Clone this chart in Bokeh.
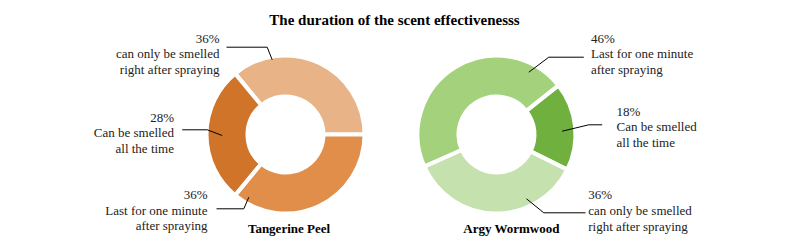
import math
from bokeh.plotting import figure
from bokeh.models import Range1d, ColumnDataSource
from bokeh.core.properties import value
from bokeh.embed import file_html
from bokeh.resources import INLINE

title = "The duration of the scent effectivenesss"
# Tangerine Peel (counter-clockwise from east)
tp_name = "Tangerine Peel"
tp_labels = ["can only be smelled\nright after spraying", "Can be smelled\nall the time", "Last for one minute\nafter spraying"]
tp_values = [36, 28, 36]
tp_colors = ["#E8B387", "#D0742A", "#E08E4A"]
# Argy Wormwood
aw_name = "Argy Wormwood"
aw_labels = ["Can be smelled\nall the time", "Last for one minute\nafter spraying", "can only be smelled\nright after spraying"]
aw_values = [18, 46, 36]
aw_colors = ["#70B03E", "#A4D27C", "#C4E1AE"]

W, H = 773, 236
FONT = value("Liberation Serif")

p = figure(width=W, height=H, output_backend="svg", toolbar_location=None,
           x_range=Range1d(0, W), y_range=Range1d(252 - H, 252),
           min_border=0)
p.axis.visible = False
p.grid.visible = False
p.outline_line_color = None
p.background_fill_color = "white"

def Y(ys):
    return 252 - ys

def donut(cx, cy, vals, colors, start_deg):
    total = sum(vals)
    starts, ends = [], []
    a = math.radians(start_deg)
    for v in vals:
        starts.append(a)
        a += 2 * math.pi * v / total
        ends.append(a)
    src = ColumnDataSource(dict(s=starts, e=ends, c=colors))
    p.annular_wedge(x=cx, y=Y(cy), inner_radius=38, outer_radius=79,
                    start_angle="s", end_angle="e", fill_color="c",
                    line_color="white", line_width=4, direction="anticlock", source=src)

donut(285, 134, tp_values, tp_colors, 0)
donut(496, 134, aw_values, aw_colors, -26.4)

def label(x, y, pct, txt, align):
    lines = [f"{pct}%"] + txt.split("\n")
    for i, ln in enumerate(lines):
        p.text(x=[x], y=[Y(y + i * 15.6)], text=[ln], text_font=FONT,
               text_font_size="13px", text_align=align, text_baseline="middle",
               text_color="#222222")

def leader(pts):
    p.line(x=[q[0] for q in pts], y=[Y(q[1]) for q in pts], line_color="black", line_width=1)

# Tangerine labels
label(219, 37.5, tp_values[0], tp_labels[0], "right")
leader([(226, 46.7), (266.7, 46.7), (271.7, 59.3)])
label(173.5, 116.5, tp_values[1], tp_labels[1], "right")
leader([(181.7, 129.3), (206.7, 129.3), (221.7, 135)])
label(207, 194, tp_values[2], tp_labels[2], "right")
leader([(216, 208.3), (243.3, 208.3), (248.3, 196.7)])

# Argy labels
label(590.5, 37.7, aw_values[1], aw_labels[1], "left")
leader([(583.3, 56.7), (548.3, 56.7), (528.3, 71.7)])
label(616, 110.7, aw_values[0], aw_labels[0], "left")
leader([(601.7, 124.3), (588.3, 124.3), (561.7, 130.7)])
label(587.7, 194.3, aw_values[2], aw_labels[2], "left")
leader([(585, 212.3), (543.3, 212.3), (526, 198.3)])

# titles
p.text(x=[394], y=[Y(19)], text=[title], text_font=FONT, text_font_size="15px",
       text_font_style="bold", text_align="center", text_baseline="middle", text_color="black")
p.text(x=[288.5], y=[Y(228)], text=[tp_name], text_font=FONT, text_font_size="13px",
       text_font_style="bold", text_align="center", text_baseline="middle", text_color="black")
p.text(x=[511], y=[Y(228)], text=[aw_name], text_font=FONT, text_font_size="13px",
       text_font_style="bold", text_align="center", text_baseline="middle", text_color="black")

open("out.html", "w").write(file_html(p, INLINE))
